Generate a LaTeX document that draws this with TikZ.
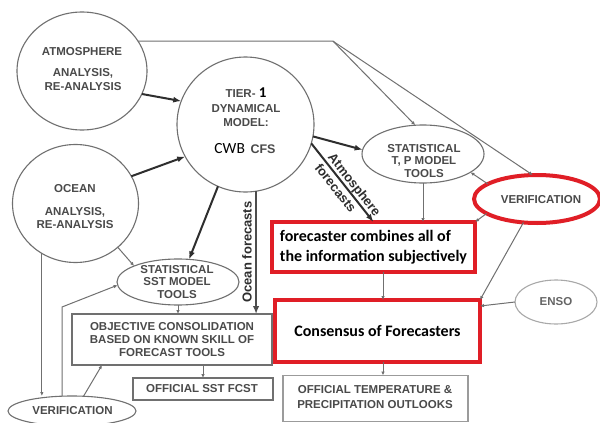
\documentclass[tikz,border=0pt]{standalone}
\usepackage{fontspec}
\setmainfont{Liberation Sans}
\newfontfamily\calfont{Carlito}
\usetikzlibrary{shapes.geometric,arrows.meta}
\definecolor{txt}{HTML}{4A4A4A}
\definecolor{ln}{HTML}{707070}
\definecolor{thk}{HTML}{2E2E2E}
\definecolor{redb}{HTML}{E01E26}
\begin{document}
\begin{tikzpicture}[x=1pt,y=-1pt,
  lbl/.style={font=\fontsize{11.5}{13.5}\selectfont\bfseries, text=txt, align=center, inner sep=0pt},
  ell/.style={draw=ln, line width=1.1pt, ellipse, inner sep=0pt, outer sep=0pt},
  bx/.style={draw=ln, line width=1.1pt, rectangle, inner sep=0pt, outer sep=0pt},
  redbox/.style={draw=redb, line width=4pt, inner sep=0pt, outer sep=0pt, align=left,
    font=\calfont\bfseries\fontsize{16}{20}\selectfont},
  tarrow/.style={thk, line width=2pt, -{Latex[length=8pt,width=6pt]}},
  oarrow/.style={thk!85, line width=2.6pt, -{Latex[length=8pt,width=6.5pt]}},
  sarrow/.style={ln, line width=1pt, -{Latex[length=4pt,width=3.5pt]}},
]
\fill[white] (0,0) rectangle (600,423);
\useasboundingbox (0,0) rectangle (600,423);

% circles / ellipses
\node[ell, minimum width=130pt, minimum height=118pt] (atm) at (82,71) {};
\node[lbl] (atmt) at (82,52) {ATMOSPHERE};
\node[lbl, font=\fontsize{11.5}{14}\selectfont\bfseries] (atma) at (83,80) {ANALYSIS,\\RE-ANALYSIS};

\node[ell, minimum width=137pt, minimum height=135pt] (tier) at (245.5,124.5) {};
\node[lbl, font=\fontsize{11.5}{14.5}\selectfont\bfseries] (tiert) at (246,107.5)
  {TIER- {\calfont\color{black}\fontsize{15}{14}\selectfont 1}\\DYNAMICAL\\MODEL:};
\node[inner sep=0pt] (tierc) at (245,149)
  {{\calfont\fontsize{15.5}{18}\selectfont CWB}\ \ {\fontsize{12.5}{14}\selectfont\bfseries\color{txt}CFS}};

\node[ell, minimum width=126pt, minimum height=118pt] (ocean) at (75.5,203.5) {};
\node[lbl] (oceant) at (75,189) {OCEAN};
\node[lbl, font=\fontsize{11.5}{13}\selectfont\bfseries] (oceana) at (75,218) {ANALYSIS,\\RE-ANALYSIS};

\node[ell, minimum width=122pt, minimum height=58pt] (tp) at (423,154) {};
\node[lbl, font=\fontsize{11.5}{12.5}\selectfont\bfseries] (tpt) at (424,161) {STATISTICAL\\T, P MODEL\\TOOLS};

\node[ell, draw=redb, line width=4pt, minimum width=126pt, minimum height=48pt] (veri) at (537,199) {};
\node[lbl] (verit) at (541,200) {VERIFICATION};

\node[ell, draw=ln!60, minimum width=82pt, minimum height=44pt] (enso) at (556,302) {};
\node[lbl, text=txt!85] (ensot) at (556,301.5) {ENSO};

\node[ell, minimum width=122pt, minimum height=46pt] (sst) at (178,282) {};
\node[lbl, font=\fontsize{11.5}{12.5}\selectfont\bfseries] (sstt) at (177,282) {STATISTICAL\\SST MODEL\\TOOLS};

\node[ell, minimum width=128pt, minimum height=30pt] (bv) at (72,411) {};
\node[lbl] (bvt) at (72.5,411) {VERIFICATION};

% boxes
\node[bx, minimum width=200pt, minimum height=51pt] (obj) at (172,339.5) {};
\node[lbl, font=\fontsize{11.5}{13}\selectfont\bfseries] (objt) at (172,340)
  {OBJECTIVE CONSOLIDATION\\BASED ON KNOWN SKILL OF\\FORECAST TOOLS};

\node[bx, minimum width=140pt, minimum height=22pt] (sstf) at (203,389) {};
\node[lbl] (sstft) at (202,389) {OFFICIAL SST FCST};

\node[bx, draw=ln!70, minimum width=185pt, minimum height=46pt] (out) at (375.5,398.5) {};
\node[lbl, font=\fontsize{11.5}{15}\selectfont\bfseries] (outt) at (375,397.5)
  {OFFICIAL TEMPERATURE \&\\PRECIPITATION OUTLOOKS};

\node[redbox, minimum width=203pt, minimum height=50pt] (box1) at (373.5,247)
  {forecaster combines all of\\the information subjectively};
\node[redbox, minimum width=205pt, minimum height=62pt] (cons) at (377.5,331)
  {Consensus of Forecasters};

% label
\node[font=\fontsize{13}{15}\selectfont\bfseries, text=thk, rotate=90, inner sep=0pt] (oflab) at (247,252) {Ocean forecasts};

% thick arrows
\draw[tarrow] (atm.-21) -- (tier.160);
\draw[tarrow] (ocean.26) -- (tier.208);
\draw[tarrow] (tier.-114) -- (sst.64);
\draw[tarrow] (tier.-10) -- (tp.176);
\draw[tarrow] (tier.-16) -- (box1.north)
  node[pos=0.59, sloped, align=left, inner sep=0pt, text=thk,
       font=\fontsize{13}{17}\selectfont\bfseries] (aflab) {Atmosphere\\forecasts};
\draw[oarrow] (tier.-81) -- (tier.-81 |- obj.north);

% thin arrows
\coordinate (tl) at (333,39);
\draw[sarrow] (atm.28) -- (atm.28 -| tl) -- (tp.105);
\draw[sarrow] (atm.28 -| tl) -- (veri.100);
\draw[sarrow] (tp.south) -- (tp.south |- box1.north);
\draw[sarrow] (veri.163) -- (tp.-21);
\draw[sarrow] (veri.196) -- (box1.north east);
\draw[sarrow] (veri.240) -- (cons.north east);
\draw[sarrow] (enso.180) -- ([yshift=25pt]cons.east);
\coordinate (c2) at ([xshift=9.5pt]box1.south);
\draw[sarrow] (c2) -- (c2 |- cons.north);
\draw[sarrow] (c2 |- cons.south) -- (c2 |- out.north);
\draw[sarrow] (sst.south) -- (sst.south |- obj.north);
\draw[sarrow] (sstf.north |- obj.south) -- (sstf.north);
\draw[sarrow] (ocean.-46) -- (sst.160);
\draw[sarrow] (ocean.-124) -- (ocean.-124 |- bv.north);
\coordinate (bend) at (62,307);
\draw[sarrow] ([xshift=-10pt]bv.north) -- (bend) -- (sst.183);
\draw[sarrow] (bv.52) -- ([xshift=-70pt]obj.south);
\end{tikzpicture}
\end{document}
